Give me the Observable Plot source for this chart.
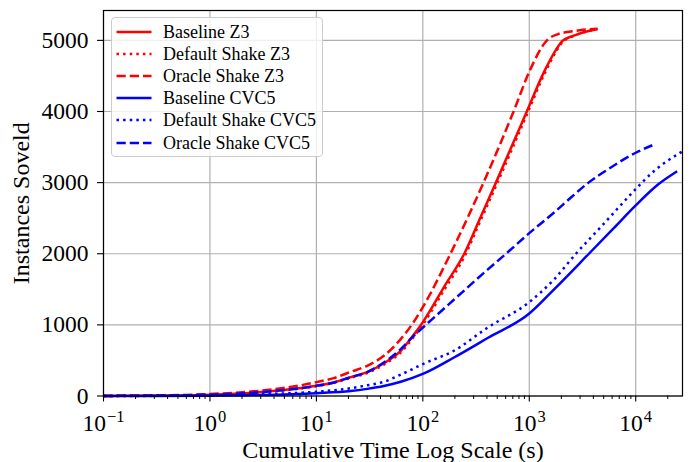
<!DOCTYPE html>
<html><head><meta charset="utf-8">
<script src="https://cdn.jsdelivr.net/npm/d3@7"></script>
<script src="https://cdn.jsdelivr.net/npm/@observablehq/plot@0.6"></script>
<style>
body{margin:0;background:#fff;}
#wrap{position:relative;width:691px;height:462px;font-family:"Liberation Serif",serif;}
#legend{position:absolute;left:111px;top:17px;width:212px;height:140px;box-sizing:border-box;border:1.2px solid #cccccc;border-radius:4px;background:rgba(255,255,255,0.8);}
.row{position:absolute;left:0;height:22px;width:210px;}
.row svg{position:absolute;left:4px;top:0;}
.row span{position:absolute;left:51px;top:0;line-height:22px;font-size:18px;white-space:nowrap;color:#000;}
</style></head><body><div id="wrap"></div>
<script>
// ---- data (seconds, instances solved) ----
const baselineZ3T = [0.1, 0.3, 1, 3, 10, 14.6, 21, 30, 43, 62, 82, 96, 160, 245, 350, 486, 700, 948, 1380, 1780, 2050, 2460, 3030, 4370];
const baselineZ3N = [1, 6, 18, 55, 144, 191, 265, 335, 460, 635, 860, 1000, 1546, 2000, 2520, 3000, 3545, 4000, 4560, 4867, 4993, 5053, 5100, 5160];

const defaultZ3T = [0.1, 0.3, 1, 3, 10, 14.6, 21, 30, 43, 62, 82, 96, 160, 245, 350, 486, 700, 948, 1380, 1780, 2050, 2460, 3030, 4370];
const defaultZ3N = [1, 5, 16, 50, 138, 184, 255, 322, 442, 612, 830, 965, 1500, 1955, 2475, 2950, 3495, 3955, 4520, 4840, 4975, 5045, 5100, 5160];

const oracleZ3T = [0.1, 0.3, 1, 3, 7.1, 10, 14.6, 21, 30, 43, 62, 82, 100, 190, 392, 725, 1000, 1480, 1840, 2460, 4370];
const oracleZ3N = [2, 8, 28, 75, 150, 195, 252, 339, 425, 565, 800, 1040, 1250, 2060, 3080, 4030, 4560, 5007, 5085, 5124, 5165];

const baselineCVC5T = [0.1, 0.3, 1, 3, 10, 21, 30, 43, 62, 100, 198, 406, 1000, 1710, 3630, 6250, 10000, 16200, 24500];
const baselineCVC5N = [0, 1, 5, 14, 40, 70, 100, 140, 200, 310, 545, 815, 1160, 1500, 2000, 2364, 2680, 2973, 3160];

const defaultCVC5T = [0.1, 0.3, 1, 3, 10, 21, 30, 43, 62, 100, 198, 406, 1000, 1710, 2740, 5000, 7250, 10000, 14800, 27500];
const defaultCVC5N = [0, 2, 8, 24, 60, 110, 150, 200, 300, 449, 640, 962, 1320, 1640, 2000, 2420, 2685, 2910, 3160, 3440];

const oracleCVC5T = [0.1, 0.3, 1, 3, 10, 14.6, 21, 30, 43, 62, 82, 100, 198, 406, 604, 1000, 1710, 2460, 3600, 5400, 10000, 14800];
const oracleCVC5N = [1, 6, 18, 55, 144, 191, 265, 335, 471, 659, 846, 962, 1360, 1777, 2000, 2290, 2580, 2790, 3000, 3180, 3420, 3534];

const seriesNames = ["Baseline Z3", "Default Shake Z3", "Oracle Shake Z3", "Baseline CVC5", "Default Shake CVC5", "Oracle Shake CVC5"];
const seriesT = [baselineZ3T, defaultZ3T, oracleZ3T, baselineCVC5T, defaultCVC5T, oracleCVC5T];
const seriesN = [baselineZ3N, defaultZ3N, oracleZ3N, baselineCVC5N, defaultCVC5N, oracleCVC5N];

const xTicks = [0.1, 1, 10, 100, 1000, 10000];
const xTickBase = "10";
const xTickExponents = ["−1", "0", "1", "2", "3", "4"];
const yTicks = [0, 1000, 2000, 3000, 4000, 5000];
const xLabel = "Cumulative Time Log Scale (s)";
const yLabel = "Instances Soveld";

// ---- styles ----
const colors = ["#ff0000", "#ff0000", "#ff0000", "#0000ff", "#0000ff", "#0000ff"];
const dashes = [null, "2.5,4.1", "9.25,4", null, "2.5,4.1", "9.25,4"];
const LW = 2.5;

const rows = [];
seriesNames.forEach((name, s) => seriesT[s].forEach((t, i) => rows.push({series: name, t, n: seriesN[s][i]})));

const minor = [];
for (let k = -1; k <= 4; k++) for (let m = 2; m <= 9; m++) { const v = m * Math.pow(10, k); if (v <= 27500) minor.push(v); }
const labelMap = new Map(xTicks.map((v, i) => [v, xTickBase + "^" + xTickExponents[i]]));

const lineMarks = seriesNames.map((name, s) => Plot.line(rows.filter(d => d.series === name), {
  x: "t", y: "n", stroke: colors[s], strokeWidth: LW,
  strokeDasharray: dashes[s] || undefined, strokeLinecap: "butt", strokeLinejoin: "round", curve: "monotone-x"
}));

const chart = Plot.plot({
  width: 691, height: 462,
  marginLeft: 103, marginRight: 9, marginTop: 10, marginBottom: 66.5,
  x: {type: "log", domain: [0.1, 27500]},
  y: {domain: [0, 5420]},
  style: {fontFamily: '"Liberation Serif", serif', fontSize: "23.5px", color: "black", background: "white", overflow: "visible"},
  marks: [
    Plot.gridX(xTicks, {stroke: "#b0b0b0", strokeOpacity: 1, strokeWidth: 1.2}),
    Plot.gridY(yTicks, {stroke: "#b0b0b0", strokeOpacity: 1, strokeWidth: 1.2}),
    ...lineMarks,
    Plot.frame({stroke: "black", strokeWidth: 1.2}),
    Plot.axisX(minor, {tickSize: 3.5, tickFormat: () => "", label: null, strokeWidth: 1}),
    Plot.axisX(xTicks, {tickSize: 6, tickPadding: 12, tickFormat: d => labelMap.get(d), label: null, strokeWidth: 1.1}),
    Plot.axisY(yTicks, {tickSize: 6, tickPadding: 9, tickFormat: d => String(d), label: null, strokeWidth: 1.1}),
    Plot.text([xLabel], {frameAnchor: "bottom", lineAnchor: "middle", textAnchor: "middle", dy: 54.5, text: d => d, fontSize: 24}),
    Plot.text([yLabel], {frameAnchor: "left", lineAnchor: "middle", textAnchor: "middle", dx: -82, rotate: -90, text: d => d, fontSize: 24})
  ]
});

// render exponents as superscripts
chart.querySelectorAll("text").forEach(el => {
  const s = el.textContent;
  if (s.includes("^")) {
    const [base, exp] = s.split("^");
    while (el.firstChild) el.removeChild(el.firstChild);
    const ns = "http://www.w3.org/2000/svg";
    const t1 = document.createElementNS(ns, "tspan"); t1.textContent = base;
    const t2 = document.createElementNS(ns, "tspan"); t2.textContent = exp;
    t2.setAttribute("font-size", "16.5px"); t2.setAttribute("dy", "-9"); t2.setAttribute("dx", "1");
    el.appendChild(t1); el.appendChild(t2);
  }
});

const wrap = document.getElementById("wrap");
wrap.appendChild(chart);

const legend = document.createElement("div");
legend.id = "legend";
const rowTops = [2.7, 24.7, 46.5, 69.3, 91.3, 113.5];
seriesNames.forEach((name, s) => {
  const r = document.createElement("div");
  r.className = "row";
  r.style.top = rowTops[s] + "px";
  const dash = dashes[s] ? `stroke-dasharray="${dashes[s]}"` : "";
  r.innerHTML = `<svg width="36" height="22"><line x1="0.5" x2="35.5" y1="11" y2="11" stroke="${colors[s]}" stroke-width="${LW}" ${dash} stroke-linecap="butt"/></svg><span>${name}</span>`;
  legend.appendChild(r);
});
wrap.appendChild(legend);
</script>
</body></html>
